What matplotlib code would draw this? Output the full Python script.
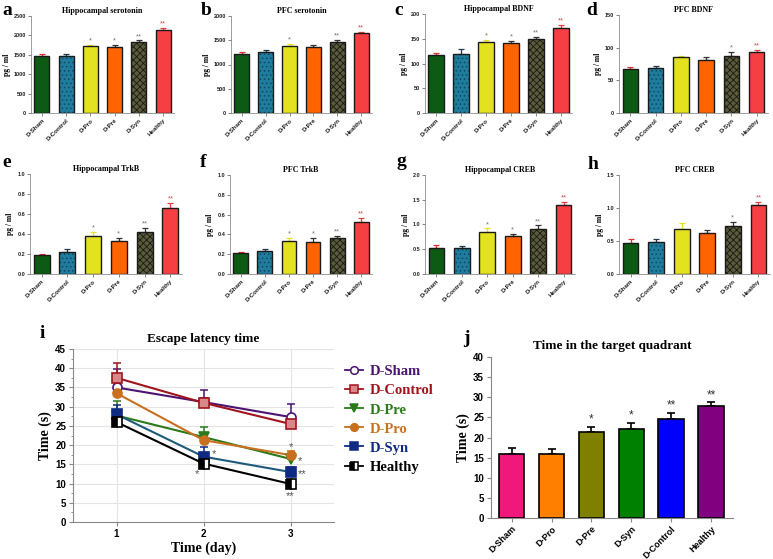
import numpy as np
import matplotlib
matplotlib.use("Agg")
import matplotlib.pyplot as plt
from matplotlib.lines import Line2D

plt.rcParams["font.family"] = ["Liberation Sans", "DejaVu Sans"]
plt.rcParams["hatch.linewidth"] = 0.6

W, H = 773, 559

# ---- panels a-h data
groups = ["D-Sham", "D-Control", "D-Pro", "D-Pre", "D-Syn", "Healthy"]
titles = ["Hippocampal serotonin", "PFC serotonin", "Hippocampal BDNF", "PFC BDNF",
          "Hippocampal TrkB", "PFC TrkB", "Hippocampal CREB", "PFC CREB"]
letters = ["a", "b", "c", "d", "e", "f", "g", "h"]
ymax = [2500, 2000, 200, 150, 1.0, 1.0, 2.0, 1.5]
ystep = [500, 500, 50, 50, 0.2, 0.2, 0.5, 0.5]
vals = [
    [1470, 1480, 1720, 1690, 1820, 2150],
    [1210, 1250, 1390, 1360, 1460, 1640],
    [118, 120, 144, 141, 149, 172],
    [67, 69, 85, 81, 88, 94],
    [0.19, 0.22, 0.38, 0.33, 0.42, 0.66],
    [0.21, 0.23, 0.33, 0.32, 0.36, 0.53],
    [0.53, 0.52, 0.84, 0.76, 0.91, 1.40],
    [0.47, 0.48, 0.68, 0.62, 0.73, 1.04],
]
errs = [
    [50, 40, 40, 60, 50, 40],
    [40, 40, 40, 50, 40, 30],
    [4, 9, 4, 5, 4, 6],
    [4, 3, 3, 4, 5, 3],
    [0.01, 0.03, 0.04, 0.03, 0.04, 0.05],
    [0.01, 0.02, 0.03, 0.04, 0.02, 0.04],
    [0.05, 0.05, 0.08, 0.05, 0.07, 0.06],
    [0.06, 0.05, 0.10, 0.04, 0.06, 0.05],
]
stars = [
    ["", "", "*", "*", "**", "**"],
    ["", "", "*", "", "**", "**"],
    ["", "", "*", "*", "**", "**"],
    ["", "", "", "", "*", "**"],
    ["", "", "*", "*", "**", "**"],
    ["", "", "*", "*", "**", "**"],
    ["", "", "*", "*", "**", "**"],
    ["", "", "", "", "*", "**"],
]
bar_colors = ["#0d5a14", "#1f7c9c", "#e2e21e", "#ff6400", "#5a5a3c", "#f53f42"]
err_colors = ["#e03030", "#20384a", "#e8e020", "#333333", "#333333", "#e04040"]
hatches = ["", "....", "", "", "xxxxx", ""]
hatch_edges = ["#111111", "#0e4a66", "#111111", "#111111", "#1a1a10", "#6a1010"]

# pixel boxes (left, top, right, bottom) and letter spots
boxes = [(31, 16, 174, 113), (231, 16, 372, 113), (425, 14, 572, 113), (619, 15, 768, 113),
         (30, 174, 182, 274), (230, 175, 372, 274), (425, 175, 575, 274), (619, 175, 770, 274)]
letter_xy = [(2, 15), (201, 15), (394, 15), (586, 15),
             (2, 167), (200, 167), (396, 166), (588, 169)]

# ---- panel i data
days = [1, 2, 3]
lat_names = ["D-Sham", "D-Control", "D-Pre", "D-Pro", "D-Syn", "Healthy"]
lat_vals = [
    [35.0, 31.2, 27.3],
    [37.5, 31.0, 25.5],
    [27.7, 22.1, 16.4],
    [33.5, 21.3, 17.4],
    [28.0, 17.0, 13.0],
    [26.0, 15.2, 9.9],
]
lat_errs = [
    [4.8, 3.1, 3.4],
    [3.8, 1.2, 1.0],
    [3.8, 2.7, 1.2],
    [1.0, 1.0, 1.0],
    [2.5, 2.6, 1.4],
    [1.0, 0.8, 1.0],
]
lat_colors = ["#4b1470", "#a0141e", "#2a7a1c", "#c8701e", "#0f2a82", "#000000"]
lat_line_colors = ["#4b1470", "#a0141e", "#2a7a1c", "#c8701e", "#1e5a7c", "#000000"]
lat_markers = ["o", "s", "v", "o", "s", "s"]

# ---- panel j data
quad_groups = ["D-Sham", "D-Pro", "D-Pre", "D-Syn", "D-Control", "Healthy"]
quad_vals = [16.0, 16.0, 21.3, 22.2, 24.7, 27.8]
quad_errs = [1.5, 1.2, 1.4, 1.5, 1.5, 0.9]
quad_stars = ["", "", "*", "*", "**", "**"]
quad_colors = ["#f0187a", "#ff8000", "#808000", "#008000", "#0000ff", "#800080"]


def ax_at(fig, l, t, r, b):
    return fig.add_axes([l / W, 1 - b / H, (r - l) / W, (b - t) / H])


fig = plt.figure(figsize=(W / 100, H / 100), dpi=100)

serif = ["Liberation Serif", "DejaVu Serif"]

for k in range(8):
    ax = ax_at(fig, *boxes[k])
    x = np.arange(len(groups))
    for i in range(len(groups)):
        ax.errorbar(x[i], vals[k][i], yerr=[[0], [errs[k][i]]], fmt="none",
                    ecolor=err_colors[i], elinewidth=0.9, capsize=2.5, capthick=0.9, zorder=1)
        ax.bar(x[i], vals[k][i], width=0.62, color=bar_colors[i], edgecolor=hatch_edges[i],
               hatch=hatches[i], linewidth=0.0, zorder=2)
        ax.bar(x[i], vals[k][i], width=0.62, color="none", edgecolor="#1a1a1a",
               linewidth=1.0, zorder=3)
        if stars[k][i]:
            ax.text(x[i], vals[k][i] + errs[k][i] + ymax[k] * 0.005, stars[k][i],
                    ha="center", va="bottom", fontsize=5.5,
                    color="#c05050" if i == 5 else "#777777")
    ax.set_xlim(-0.45, 5.45)
    ax.set_ylim(0, ymax[k])
    ax.set_yticks(np.arange(0, ymax[k] + ystep[k] / 2, ystep[k]))
    if ymax[k] < 5:
        ax.set_yticklabels([f"{v:.1f}" for v in ax.get_yticks()])
    ax.set_xticks(x)
    ax.set_xticklabels(groups, rotation=45, ha="right", rotation_mode="anchor")
    ax.tick_params(labelsize=4.5, length=2, width=0.5, pad=1.5, colors="#555555",
                   labelcolor="#222222")
    ax.tick_params(axis="y", labelsize=4)
    for lab in ax.get_xticklabels() + ax.get_yticklabels():
        lab.set_fontweight("bold")
    for s in ["top", "right"]:
        ax.spines[s].set_visible(False)
    for s in ["left", "bottom"]:
        ax.spines[s].set_linewidth(0.5)
        ax.spines[s].set_color("#777777")
    ax.set_ylabel("pg / ml", family=serif, fontweight="bold", fontsize=5.5, labelpad=2)
    ax.set_title(titles[k], family=serif, fontweight="bold", fontsize=5.8, pad=2)
    fig.text(letter_xy[k][0] / W, 1 - letter_xy[k][1] / H, letters[k], family=serif,
             fontweight="bold", fontsize=14, va="baseline", ha="left")

# ---- panel i
ax = ax_at(fig, 73, 349, 334, 522)
handles = []
for n in range(len(lat_names)):
    err = lat_errs[n]
    ax.errorbar(days, lat_vals[n], yerr=[[0, 0, 0], err], fmt="none",
                ecolor=lat_colors[n], elinewidth=1.1, capsize=3, capthick=1.1, zorder=2)
    if n == 0:
        mfc, fs = "white", "full"
    elif n == 5:
        mfc, fs = "black", "left"
    elif n == 1:
        mfc, fs = "#d88888", "full"
    else:
        mfc, fs = lat_colors[n], "full"
    ax.plot(days, lat_vals[n], color=lat_line_colors[n], lw=1.5, zorder=3)
    ax.plot(days, lat_vals[n], ls="none", marker=lat_markers[n], ms=6.5, mfc=mfc,
            mfcalt="white", fillstyle=fs, mec=lat_colors[n], mew=1.2, zorder=4)
    handles.append(Line2D([0], [0], color=lat_colors[n], lw=1.3, marker=lat_markers[n], ms=5.5,
                          mfc=mfc, mfcalt="white", fillstyle=fs, mec=lat_colors[n], mew=1.1))
star_kw = dict(fontsize=8, color="#555555", va="center")
ax.text(2.09, 17.6, "*", ha="left", **star_kw)
ax.text(1.93, 12.4, "*", ha="center", **star_kw)
ax.text(3.0, 19.4, "*", ha="center", **star_kw)
ax.text(3.08, 15.9, "*", ha="left", **star_kw)
ax.text(3.08, 12.5, "**", ha="left", **star_kw)
ax.text(3.0, 6.7, "**", ha="center", **star_kw)
ax.set_xlim(0.5, 3.5)
ax.set_ylim(0, 45)
ax.set_xticks(days)
ax.set_yticks(np.arange(0, 46, 5))
ax.set_yticks(np.arange(0, 45, 2.5), minor=True)
ax.grid(True, color="#e4e4e4", lw=0.8)
ax.set_axisbelow(True)
for s in ["top", "right"]:
    ax.spines[s].set_visible(False)
for s in ["left", "bottom"]:
    ax.spines[s].set_color("#888888")
ax.tick_params(labelsize=7, length=3, color="#888888", pad=2)
ax.tick_params(which="minor", length=1.5, color="#888888")
for lab in ax.get_xticklabels() + ax.get_yticklabels():
    lab.set_fontweight("bold")
ax.set_xlabel("Time (day)", family=serif, fontweight="bold", fontsize=10, labelpad=2)
ax.set_ylabel("Time (s)", family=serif, fontweight="bold", fontsize=10, labelpad=2)
ax.set_title("Escape latency time", family=serif, fontweight="bold", fontsize=9.5, pad=5)
leg = ax.legend(handles, lat_names, loc="upper left", bbox_to_anchor=(1.02, 0.94),
                frameon=False, handlelength=1.2, handletextpad=0.5, labelspacing=0.4,
                borderaxespad=0, prop={"family": serif, "weight": "bold", "size": 10.5})
for t, c in zip(leg.get_texts(), lat_colors):
    t.set_color(c)
fig.text(40 / W, 1 - 338 / H, "i", family=serif, fontweight="bold", fontsize=14,
         va="baseline", ha="left")

# ---- panel j
ax = ax_at(fig, 491, 357, 733, 518)
xq = np.arange(len(quad_groups))
ax.errorbar(xq, quad_vals, yerr=[np.zeros(6), quad_errs], fmt="none", ecolor="black",
            elinewidth=1.2, capsize=3, capthick=1.2, zorder=1)
ax.bar(xq, quad_vals, width=0.64, color=quad_colors, edgecolor="black", linewidth=1.2, zorder=2)
for i in range(len(quad_groups)):
    if quad_stars[i]:
        ax.text(xq[i], quad_vals[i] + quad_errs[i] + 0.2, quad_stars[i], ha="center",
                va="bottom", fontsize=8.5, color="#333333")
ax.set_xlim(-0.52, 5.55)
ax.set_ylim(0, 40)
ax.set_yticks(np.arange(0, 41, 5))
ax.set_xticks(xq)
ax.set_xticklabels(quad_groups, rotation=45, ha="right", rotation_mode="anchor")
for s in ["top", "right"]:
    ax.spines[s].set_visible(False)
for s in ["left", "bottom"]:
    ax.spines[s].set_color("#888888")
ax.tick_params(labelsize=7, length=3, color="#888888", pad=2)
ax.tick_params(axis="x", labelsize=6.5, pad=1.5)
for lab in ax.get_xticklabels() + ax.get_yticklabels():
    lab.set_fontweight("bold")
ax.set_ylabel("Time (s)", family=serif, fontweight="bold", fontsize=10, labelpad=2)
ax.set_title("Time in the target quadrant", family=serif, fontweight="bold", fontsize=9.5, pad=6)
fig.text(463 / W, 1 - 343 / H, "j", family=serif, fontweight="bold", fontsize=14,
         va="baseline", ha="left")

fig.savefig("out.png", dpi=100)
